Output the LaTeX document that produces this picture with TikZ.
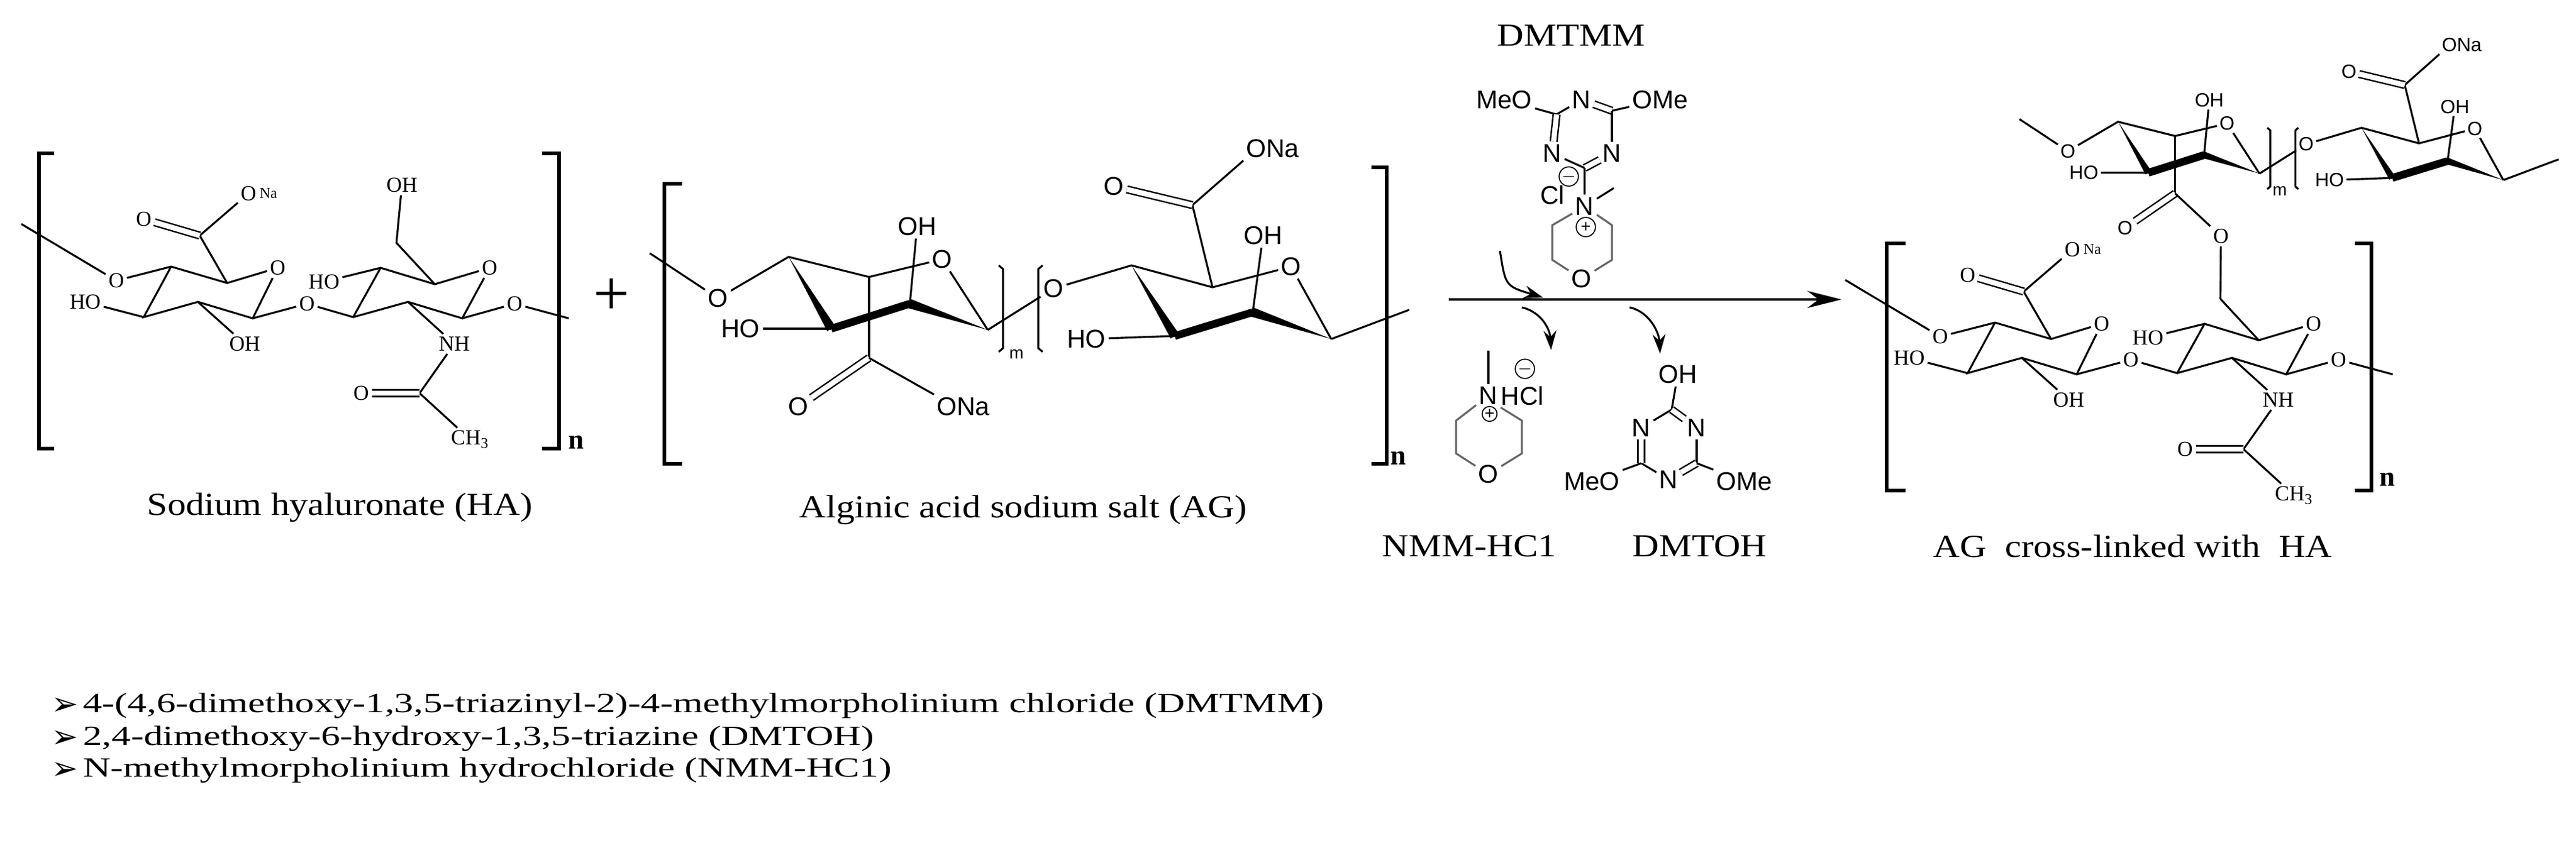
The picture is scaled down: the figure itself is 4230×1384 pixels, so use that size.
\documentclass[tikz,border=0pt]{standalone}
\usepackage{fontspec}
\setmainfont{Liberation Serif}
\newfontfamily\arialf{Liberation Sans}
\newfontfamily\djv{DejaVu Sans}
\usetikzlibrary{arrows.meta,calc}
\newcommand\fs[1]{\fontsize{#1}{#1}\selectfont}
\tikzset{
 bond/.style={line width=0.9pt},
 dbl/.style={double,double distance=2.4pt,line width=0.7pt},
 brk/.style={line width=1.6pt},
 ha/.style={inner sep=1.2pt,font=\fs{10}},
 ag/.style={inner sep=1.2pt,font=\arialf\fs{12}},
 ch/.style={inner sep=1.2pt,font=\arialf\fs{12}},
 chg/.style={circle,draw,line width=0.5pt,inner sep=0pt,minimum size=9pt,font=\arialf\fs{8}},
 lab/.style={font=\fs{15}},
 nn/.style={font=\bfseries\fs{13}},
 note/.style={anchor=west,font=\fs{13}},
}
\newcommand\bul{{\djv\fs{15}\raisebox{-1pt}{➢}}}
\newcommand\wedgebond[2]{\fill ($(#1)$) -- ($(#2)!2.2pt!90:(#1)$) -- ($(#2)!2.2pt!-90:(#1)$) -- cycle;}
\newcommand\HAcore[1]{%
 \coordinate (#1s) at (35,368);
 \node[ha] (#1O1) at (191,461) {O};
 \coordinate (#1a) at (281,438); \coordinate (#1b) at (373,465);
 \node[ha] (#1Or) at (456,440) {O};
 \coordinate (#1c) at (415,523); \coordinate (#1d) at (325,496); \coordinate (#1e) at (236,521);
 \node[ha] (#1HO) at (140,496) {HO};
 \node[ha] (#1OHb) at (402,565) {OH};
 \coordinate (#1k) at (328,387);
 \node[ha] (#1Ok) at (236,360) {O};
 \node[ha] (#1ONa) at (408,318) {O};
 \node[ha,anchor=west,inner sep=0pt,font=\fs{7}] at (#1ONa.east) {Na};
 \node[ha] (#1Og) at (504,499) {O};
 \coordinate (#1f) at (580,521); \coordinate (#1g) at (625,440); \coordinate (#1h) at (714,467);
 \node[ha] (#1Or2) at (804,440) {O};
 \coordinate (#1i) at (759,523); \coordinate (#1j) at (670,496);
 \node[ha] (#1HO2) at (532,463) {HO};
 \node[ha] (#1NH) at (746,565) {NH};
 \coordinate (#1m) at (689,646);
 \node[ha] (#1Om) at (593,646) {O};
 \node[ha] (#1Me) at (772,722) {CH\textsubscript{3}};
 \node[ha] (#1Oe) at (845,499) {O};
 \coordinate (#1t) at (934,523);
 \coordinate (#1CH2) at (651,399);
 \draw[bond] (#1s)--(#1O1)--(#1a)--(#1b)--(#1Or)--(#1c)--(#1d)--(#1e)--(#1a);
 \draw[bond] (#1e)--(#1HO); \draw[bond] (#1d)--(#1OHb);
 \draw[bond] (#1b)--(#1k)--(#1ONa); \draw[dbl] (#1k)--(#1Ok);
 \draw[bond] (#1c)--(#1Og)--(#1f)--(#1g)--(#1h)--(#1Or2)--(#1i)--(#1j)--(#1f);
 \draw[bond] (#1g)--(#1HO2);
 \draw[bond] (#1j)--(#1NH)--(#1m)--(#1Me); \draw[dbl] (#1m)--(#1Om);
 \draw[bond] (#1i)--(#1Oe)--(#1t);
 \draw[bond] (#1h)--(#1CH2);
}
\newcommand\AGcore[1]{%
 \coordinate (#1s) at (-228,-6);
 \node[ag] (#1O1) at (-116,68) {O};
 \coordinate (#1A) at (0,0); \coordinate (#1B) at (132,33);
 \node[ag] (#1Or) at (252,4) {O};
 \coordinate (#1C) at (327,120); \coordinate (#1D) at (199,77); \coordinate (#1E) at (70,118);
 \node[ag] (#1HO) at (-79,118) {HO};
 \node[ag] (#1OH) at (211,-50) {OH};
 \coordinate (#1K) at (132,166);
 \node[ag] (#1OK) at (16,246) {O};
 \node[ag] (#1O2) at (435,52) {O};
 \coordinate (#1A2) at (563,14); \coordinate (#1B2) at (696,50);
 \node[ag] (#1Or2) at (825,16) {O};
 \coordinate (#1C2) at (891,135); \coordinate (#1D2) at (762,91); \coordinate (#1E2) at (634,130);
 \node[ag] (#1HO2) at (489,135) {HO};
 \node[ag] (#1OH2) at (779,-35) {OH};
 \coordinate (#1K2) at (663,-85);
 \node[ag] (#1OK2) at (534,-116) {O};
 \node[ag] (#1ONa2) at (795,-178) {ONa};
 \coordinate (#1t) at (1019,87);
 \draw[bond] (#1s)--(#1O1)--(#1A)--(#1B)--(#1Or)--(#1C);
 \wedgebond{#1C}{#1D}
 \draw[line width=3.6pt] (#1D)--(#1E);
 \wedgebond{#1A}{#1E}
 \draw[bond] (#1E)--(#1HO); \draw[bond] (#1D)--(#1OH);
 \draw[bond] (#1B)--(#1K); \draw[dbl] (#1K)--(#1OK);
 \draw[bond] (#1C)--(#1O2)--(#1A2)--(#1B2)--(#1Or2)--(#1C2);
 \wedgebond{#1C2}{#1D2}
 \draw[line width=3.6pt] (#1D2)--(#1E2);
 \wedgebond{#1A2}{#1E2}
 \draw[bond] (#1E2)--(#1HO2); \draw[bond] (#1D2)--(#1OH2);
 \draw[bond] (#1B2)--(#1K2)--(#1ONa2.south west); \draw[dbl] (#1K2)--(#1OK2);
 \draw[bond] (#1C2)--(#1t);
 \draw[bond] (345,14)--(352,20)--(352,150)--(345,156);
 \draw[bond] (417,14)--(410,20)--(410,150)--(417,156);
 \node[ag,font=\arialf\fs{8}] (#1m) at (374,160) {m};
}
\begin{document}
\begin{tikzpicture}[x=0.01cm,y=-0.01cm]
\useasboundingbox (0,0) rectangle (4230,1384);
% ---------- HA ----------
\HAcore{H}
\node[ha] (HOH6) at (660,304) {OH};
\draw[bond] (HCH2)--(HOH6);
\draw[brk] (89,252)--(64,252)--(64,737)--(89,737);
\draw[brk] (890,252)--(918,252)--(918,737)--(890,737);
\node[nn] (Hn) at (946,727) {n};
\node[lab] (HAlab) at (558,834) {\scalebox{1.15}[1]{Sodium hyaluronate (HA)}};
\node[font=\fs{30}] (plus) at (1004,488) {+};
% ---------- AG ----------
\begin{scope}[shift={(1295,422)}]
\AGcore{G}
\node[ag] (GONa) at (287,246) {ONa};
\draw[bond] (GK)--(GONa.north west);
\end{scope}
\draw[brk] (1120,302)--(1091,302)--(1091,762)--(1120,762);
\draw[brk] (2252,275)--(2277,275)--(2277,762)--(2252,762);
\node[nn] (Gn) at (2296,753) {n};
\node[lab] (AGlab) at (1680,838) {\scalebox{1.15}[1]{Alginic acid sodium salt (AG)}};
% ---------- arrow and reagents ----------
\coordinate (ar1) at (2379,492); \coordinate (ar2) at (3024,492);
\draw[bond,-{Stealth[length=16pt,width=8pt]}] (ar1)--(ar2);
\node[lab] (dlab) at (2580,58) {\scalebox{1.15}[1]{DMTMM}};
\node[ch] (dMeO) at (2470,164) {MeO};
\coordinate (d1) at (2556,188);
\node[ch] (dN1) at (2597,164) {N};
\coordinate (d2) at (2647,182);
\node[ch] (dOMe) at (2726,164) {OMe};
\node[ch] (dN2) at (2647,252) {N};
\coordinate (d3) at (2602,276);
\node[ch] (dN3) at (2549,252) {N};
\node[ch] (dNp) at (2602,339) {N};
\coordinate (dme) at (2650,309);
\node[ch] (dCl) at (2549,320) {Cl};
\node[chg] (dmin) at (2576,290) {$-$};
\node[chg] (dplus) at (2604,373) {+};
\coordinate (dm1) at (2549,370); \coordinate (dm2) at (2549,427);
\node[ch] (dO) at (2597,458) {O};
\coordinate (dm3) at (2647,427); \coordinate (dm4) at (2647,370);
\draw[bond] (dMeO)--(d1)--(dN1); \draw[dbl] (dN1)--(d2);
\draw[bond] (d2)--(dOMe); \draw[bond] (d2)--(dN2); \draw[dbl] (dN2)--(d3);
\draw[bond] (d3)--(dN3); \draw[dbl] (dN3)--(d1);
\draw[bond] (d3)--(dNp)--(dme);
\draw[bond,gray!80!black] (dNp)--(dm1)--(dm2)--(dO)--(dm3)--(dm4)--(dNp);
\coordinate (c1a) at (2463,412); \coordinate (c1b) at (2534,489);
\coordinate (c2a) at (2499,505); \coordinate (c2b) at (2547,575);
\coordinate (c3a) at (2676,505); \coordinate (c3b) at (2726,581);
\draw[bond,-{Stealth[length=9pt,width=6pt]}] (c1a) .. controls (2472,470) .. (c1b);
\draw[bond,-{Stealth[length=9pt,width=6pt]}] (c2a) .. controls (2530,512) and (2545,540) .. (c2b);
\draw[bond,-{Stealth[length=9pt,width=6pt]}] (c3a) .. controls (2708,512) and (2724,545) .. (c3b);
% NMM-HCl
\coordinate (nme) at (2444,576);
\node[ch] (nN) at (2444,650) {N};
\node[ch,anchor=west,inner sep=0pt] (nHCl) at (nN.east) {HCl};
\node[chg] (nmin) at (2504,606) {$-$};
\node[chg,minimum size=7pt] (nplus) at (2446,680) {+};
\coordinate (n1) at (2391,691); \coordinate (n2) at (2391,745);
\node[ch] (nO) at (2444,779) {O};
\coordinate (n3) at (2499,745); \coordinate (n4) at (2499,691);
\draw[bond] (nme)--(nN);
\draw[bond,gray!80!black] (nN)--(n1)--(n2)--(nO)--(n3)--(n4)--(nN.south east);
% DMTOH
\node[ch] (tOH) at (2755,615) {OH};
\coordinate (t1) at (2745,673);
\node[ch] (tN1) at (2695,703) {N};
\node[ch] (tN2) at (2786,703) {N};
\coordinate (t2) at (2695,761); \coordinate (t3) at (2786,761);
\node[ch] (tN3) at (2740,788) {N};
\node[ch] (tMeO) at (2614,791) {MeO};
\node[ch] (tOMe) at (2864,791) {OMe};
\draw[bond] (tOH)--(t1)--(tN1); \draw[dbl] (t1)--(tN2);
\draw[bond] (tN2)--(t3); \draw[dbl] (t3)--(tN3); \draw[bond] (tN3)--(t2); \draw[dbl] (t2)--(tN1);
\draw[bond] (t2)--(tMeO); \draw[bond] (t3)--(tOMe);
\node[lab] (nlab) at (2413,897) {\scalebox{1.15}[1]{NMM-HC1}};
\node[lab] (tlab) at (2791,897) {\scalebox{1.15}[1]{DMTOH}};
% ---------- product ----------
\begin{scope}[shift={(2995,92)}]
\HAcore{P}
\end{scope}
\begin{scope}[shift={(3478,200)},scale=0.71,ag/.style={inner sep=1pt,font=\arialf\fs{9}}]
\AGcore{Q}
\end{scope}
\node[ha] (PeO) at (3647,388) {O};
\draw[bond] (QK)--(PeO)--(PCH2);
\draw[brk] (3129,400)--(3098,400)--(3098,806)--(3129,806);
\draw[brk] (3867,400)--(3894,400)--(3894,806)--(3867,806);
\node[nn] (Pn) at (3920,788) {n};
\node[lab] (Plab) at (3502,897) {\scalebox{1.15}[1]{AG\ \ cross-linked with\ \ HA}};
% ---------- notes ----------
\node[note] (l1) at (72,1160) {\bul\,\scalebox{1.38}[1]{4-(4,6-dimethoxy-1,3,5-triazinyl-2)-4-methylmorpholinium chloride (DMTMM)}};
\node[note] (l2) at (72,1214) {\bul\,\scalebox{1.38}[1]{2,4-dimethoxy-6-hydroxy-1,3,5-triazine (DMTOH)}};
\node[note] (l3) at (72,1266) {\bul\,\scalebox{1.38}[1]{N-methylmorpholinium hydrochloride (NMM-HC1)}};
\end{tikzpicture}
\end{document}
